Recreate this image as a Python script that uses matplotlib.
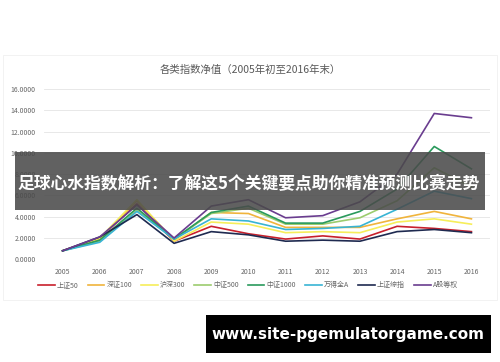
import numpy as np
import matplotlib
matplotlib.use('Agg')
import matplotlib.pyplot as plt
from matplotlib.patches import Rectangle
from matplotlib import ticker

plt.rcParams['font.family'] = ['Noto Sans CJK SC', 'DejaVu Sans']

years = ['2005', '2006', '2007', '2008', '2009', '2010',
         '2011', '2012', '2013', '2014', '2015', '2016']

sz50 = [0.8, 2.0, 5.2, 1.7, 3.1, 2.4, 1.9, 2.2, 1.9, 3.1, 2.9, 2.6]
sz100 = [0.8, 1.9, 5.5, 1.8, 4.4, 4.3, 3.0, 3.0, 3.0, 3.8, 4.5, 3.8]
hs300 = [0.8, 2.0, 5.6, 1.7, 3.5, 3.3, 2.5, 2.6, 2.5, 3.5, 3.8, 3.3]
zz500 = [0.8, 1.7, 4.6, 1.9, 4.3, 4.8, 3.3, 3.3, 3.9, 5.5, 8.6, 6.8]
zz1000 = [0.8, 1.8, 4.8, 1.9, 4.4, 5.0, 3.4, 3.4, 4.5, 6.6, 10.6, 8.5]
wind_a = [0.8, 1.6, 4.5, 1.9, 3.8, 3.6, 2.8, 2.9, 3.1, 4.7, 6.4, 5.7]
szzz = [0.8, 2.1, 4.2, 1.5, 2.6, 2.3, 1.7, 1.8, 1.7, 2.6, 2.8, 2.5]
a_eq = [0.8, 2.1, 5.1, 2.0, 5.0, 5.6, 3.9, 4.1, 5.4, 8.0, 13.7, 13.3]

names = ['上证50', '深证100', '沪深300', '中证500', '中证1000', '万得全A', '上证综指', 'A股等权']
series = [sz50, sz100, hs300, zz500, zz1000, wind_a, szzz, a_eq]
colors = ['#c8202c', '#f0b43c', '#f6ee5a', '#9ccc6e', '#2a9a5c', '#38b4d4', '#1f2a50', '#6a3d8f']

W, H = 500, 362
fig = plt.figure(figsize=(5, 3.62), dpi=100)
fig.patches.append(Rectangle((3 / W, 1 - 300 / H), 494 / W, 245 / H, transform=fig.transFigure,
                             fill=False, edgecolor='#ededed', linewidth=0.5, zorder=0))

ax = fig.add_axes([44 / W, 1 - 259.3 / H, 446 / W, (259.3 - 89) / H])
x = np.arange(len(years))
for s, n, c in zip(series, names, colors):
    ax.plot(x, s, color=c, linewidth=1.2, label=n)

ax.set_xlim(-0.5, len(years) - 0.5)
ax.set_ylim(0, 16)
ax.set_yticks(np.arange(0, 17, 2))
ax.yaxis.set_major_formatter(ticker.FormatStrFormatter('%.4f'))
ax.set_xticks(x)
ax.set_xticklabels(years)
ax.tick_params(length=0, labelsize=5, labelcolor='#666666', pad=6)
ax.grid(axis='y', color='#e4e4e4', linewidth=0.6)
ax.set_axisbelow(True)
for sp in ax.spines.values():
    sp.set_visible(False)

fig.text(0.5, 1 - 70 / H, '各类指数净值（2005年初至2016年末）', ha='center', va='center',
         fontsize=7.5, color='#595959')

fig.legend(loc='center', bbox_to_anchor=(248 / W, 1 - 285 / H), ncol=8, frameon=False,
           fontsize=5, handlelength=2.4, handletextpad=0.3, columnspacing=1.3,
           labelcolor='#666666')

# overlay banner
fig.patches.append(Rectangle((15 / W, 1 - 210 / H), 470 / W, 58 / H, transform=fig.transFigure,
                             facecolor='#4a4a4a', alpha=0.87, edgecolor='none', zorder=5))
fig.text(249 / W, 1 - 184 / H, '足球心水指数解析：了解这5个关键要点助你精准预测比赛走势',
         ha='center', va='center', fontsize=12.1, fontweight='bold', color='white', zorder=6)

fig.patches.append(Rectangle((206 / W, 1 - 353 / H), 285 / W, 38 / H, transform=fig.transFigure,
                             facecolor='black', edgecolor='none', zorder=5))
fig.text(348 / W, 1 - 334 / H, 'www.site-pgemulatorgame.com', ha='center', va='center',
         fontsize=11, fontweight='bold', color='white', family='DejaVu Sans', zorder=6)

fig.savefig('out.png', dpi=100)
